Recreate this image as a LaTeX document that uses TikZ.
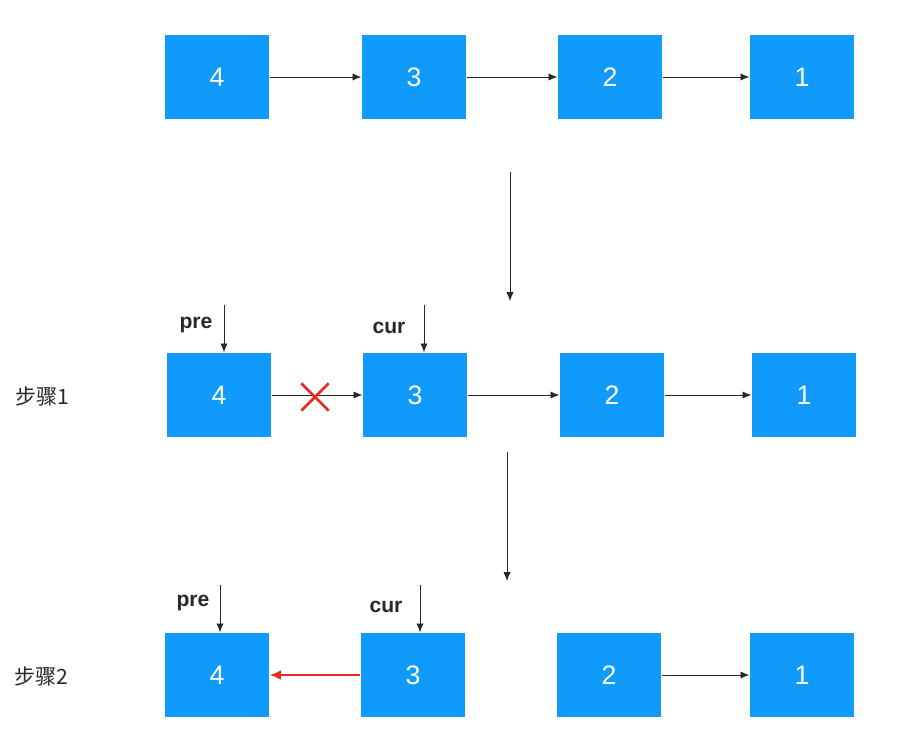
\documentclass[tikz,border=0pt]{standalone}
\usepackage{fontspec}
\setmainfont{Liberation Sans}
\newfontfamily\cjk{Noto Sans CJK SC}
\usetikzlibrary{arrows.meta,positioning,shapes.misc}
\definecolor{nodeblue}{RGB}{16,155,252}
\definecolor{linkgray}{RGB}{40,40,40}
\definecolor{cutred}{RGB}{235,40,30}

\begin{document}
\begin{tikzpicture}[
    x=0.025cm,y=-0.025cm,
    item/.style={rectangle,fill=nodeblue,minimum width=2.62cm,minimum height=2.12cm,
      text=white,font=\fontsize{19}{22}\selectfont},
    ptr/.style={font=\bfseries\fontsize{15}{17}\selectfont,text=linkgray},
    steplabel/.style={font=\cjk\fontsize{15}{17}\selectfont,text=linkgray},
    arrow/.style={-{Latex[length=2.2mm,width=1.8mm]},draw=linkgray,line width=0.55pt},
    redarrow/.style={-{Latex[length=2.8mm,width=2.4mm]},draw=cutred,line width=1.3pt}
  ]
    \useasboundingbox (0,0) rectangle (918,744);

    % original list
    \node[item] (a4) at (217,77) {4};
    \node[item] (a3) at (414,77) {3};
    \node[item] (a2) at (610,77) {2};
    \node[item] (a1) at (802,77) {1};
    \draw[arrow] (a4) -- (a3);
    \draw[arrow] (a3) -- (a2);
    \draw[arrow] (a2) -- (a1);

    \coordinate (d1s) at (510,172);
    \coordinate (d1e) at (510,301);
    \draw[arrow] (d1s) -- (d1e);

    % step 1
    \node[steplabel] (s1) at (42,396) {步骤1};
    \node[item] (b4) at (219,395) {4};
    \node[item] (b3) at (415,395) {3};
    \node[item] (b2) at (612,395) {2};
    \node[item] (b1) at (804,395) {1};
    \draw[arrow] (b4) -- (b3);
    \draw[arrow] (b3) -- (b2);
    \draw[arrow] (b2) -- (b1);
    \node[cross out,draw=cutred,line width=1.8pt,minimum size=0.62cm,inner sep=0pt] (cut) at (315,397) {};
    \node[ptr] (pre1) at (196,325) {pre};
    \node[ptr] (cur1) at (389,328) {cur};
    \coordinate (p1) at (224,305);
    \coordinate (c1) at (424,305);
    \draw[arrow] (p1) -- (p1 |- b4.north);
    \draw[arrow] (c1) -- (c1 |- b3.north);

    \coordinate (d2s) at (507,452);
    \coordinate (d2e) at (507,581);
    \draw[arrow] (d2s) -- (d2e);

    % step 2
    \node[steplabel] (s2) at (41,676) {步骤2};
    \node[item] (c4) at (217,675) {4};
    \node[item] (c3) at (413,675) {3};
    \node[item] (c2) at (609,675) {2};
    \node[item] (c1n) at (802,675) {1};
    \draw[redarrow] (c3) -- (c4);
    \draw[arrow] (c2) -- (c1n);
    \node[ptr] (pre2) at (193,603) {pre};
    \node[ptr] (cur2) at (386,607) {cur};
    \coordinate (p2) at (220,585);
    \coordinate (c2p) at (420,585);
    \draw[arrow] (p2) -- (p2 |- c4.north);
    \draw[arrow] (c2p) -- (c2p |- c3.north);
  \end{tikzpicture}
\end{document}
